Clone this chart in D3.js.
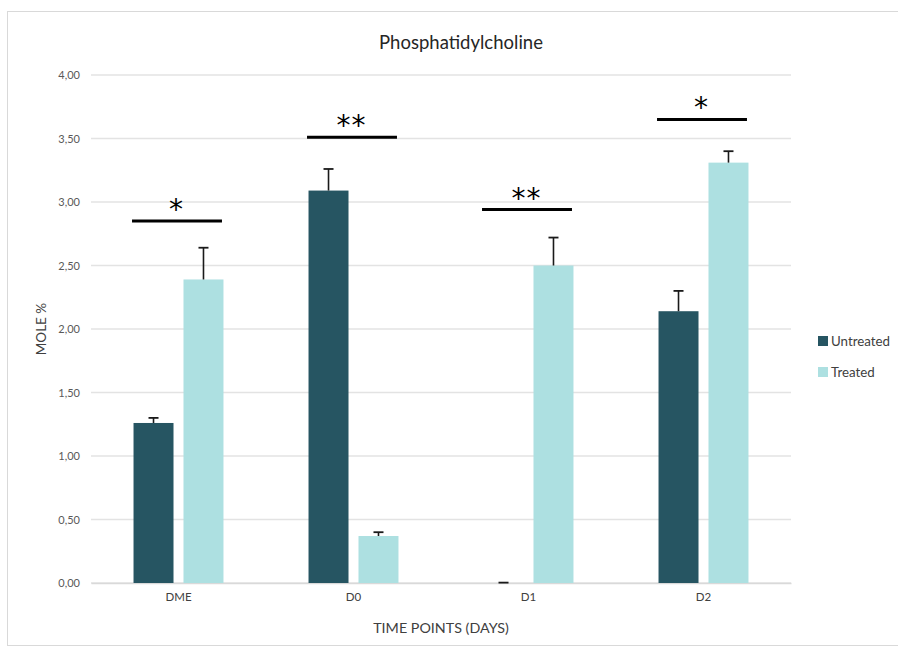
<!DOCTYPE html>
<html><head><meta charset="utf-8">
<script src="https://cdn.jsdelivr.net/npm/d3@7"></script>
<style>body{margin:0;background:#fff}svg{display:block}text{font-family:Lato,"Open Sans",sans-serif}</style>
</head><body><svg id="c" width="898" height="652"></svg>
<script>
const categories = ["DME", "D0", "D1", "D2"];
const seriesNames = ["Untreated", "Treated"];
const untreated = [1.26, 3.09, 0.00, 2.14];
const untreatedErr = [0.04, 0.17, 0.003, 0.16];
const treated = [2.39, 0.37, 2.50, 3.31];
const treatedErr = [0.25, 0.03, 0.22, 0.09];
const sigLevels = [2.85, 3.51, 2.94, 3.65];
const sigLabels = ["*", "**", "**", "*"];
const yTicks = [0, 0.5, 1, 1.5, 2, 2.5, 3, 3.5, 4];
const colors = ["#265562", "#ade0e1"];

const svg = d3.select("#c");
const L = 91, R = 791, T = 75, B = 583;

svg.append("rect").attr("x", 7.5).attr("y", 11.5).attr("width", 905).attr("height", 634)
  .attr("fill", "#fff").attr("stroke", "#d9d9d9");

const x0 = d3.scaleBand().domain(categories).range([L, R]).paddingInner(0.486).paddingOuter(0.243);
const x1 = d3.scaleBand().domain(seriesNames).range([0, x0.bandwidth()]).paddingInner(0.2);
const y = d3.scaleLinear().domain([0, 4]).range([B, T]);

// gridlines
svg.append("g").selectAll("line").data(yTicks).join("line")
  .attr("x1", L).attr("x2", R).attr("y1", d => y(d)).attr("y2", d => y(d))
  .attr("stroke", "#e3e3e3").attr("stroke-width", 1.3);

// y axis labels
const yAxis = d3.axisLeft(y).tickValues(yTicks).tickSize(0).tickPadding(11)
  .tickFormat(d => d3.format(".2f")(d).replace(".", ","));
const ya = svg.append("g").attr("transform", `translate(${L},0)`).call(yAxis);
ya.select(".domain").remove();
ya.selectAll("text").attr("font-size", 11).attr("fill", "#595959").style("font-family", "Lato, sans-serif");

// x axis
const xAxis = d3.axisBottom(x0).tickSize(0).tickPadding(10);
const xa = svg.append("g").attr("transform", `translate(0,${B})`).call(xAxis);
xa.select(".domain").attr("stroke", "#d9d9d9").attr("stroke-width", 1.3);
xa.selectAll("text").attr("font-size", 11.5).attr("fill", "#404040").style("font-family", "Lato, sans-serif");

const data = categories.map((c, i) => ({
  c, vals: [
    {s: "Untreated", v: untreated[i], e: untreatedErr[i], k: 0},
    {s: "Treated", v: treated[i], e: treatedErr[i], k: 1}
  ]
}));

const g = svg.append("g").selectAll("g").data(data).join("g")
  .attr("transform", d => `translate(${x0(d.c)},0)`);

g.selectAll("rect").data(d => d.vals).join("rect")
  .attr("x", d => x1(d.s)).attr("width", x1.bandwidth())
  .attr("y", d => y(d.v)).attr("height", d => y(0) - y(d.v))
  .attr("fill", d => colors[d.k]);

// error bars
const eb = g.selectAll("g.eb").data(d => d.vals).join("g").attr("class", "eb");
eb.append("line")
  .attr("x1", d => x1(d.s) + x1.bandwidth() / 2).attr("x2", d => x1(d.s) + x1.bandwidth() / 2)
  .attr("y1", d => y(d.v)).attr("y2", d => y(d.v + d.e))
  .attr("stroke", "#1a1a1a").attr("stroke-width", 1.6);
eb.append("line")
  .attr("x1", d => x1(d.s) + x1.bandwidth() / 2 - 5).attr("x2", d => x1(d.s) + x1.bandwidth() / 2 + 5)
  .attr("y1", d => y(d.v + d.e)).attr("y2", d => y(d.v + d.e))
  .attr("stroke", "#1a1a1a").attr("stroke-width", 1.8);

// significance
const sig = svg.append("g").selectAll("g").data(categories).join("g");
sig.append("line")
  .attr("x1", d => x0(d) - 1.5).attr("x2", d => x0(d) + x0.bandwidth() - 1.5)
  .attr("y1", (d, i) => y(sigLevels[i])).attr("y2", (d, i) => y(sigLevels[i]))
  .attr("stroke", "#000").attr("stroke-width", 3);
sig.append("text")
  .attr("x", d => x0(d) + x0.bandwidth() / 2 - 2)
  .attr("y", (d, i) => y(sigLevels[i]) - 2)
  .attr("text-anchor", "middle").attr("font-size", 28)
  .style("font-family", "DejaVu Sans, sans-serif").style("letter-spacing", "1px")
  .text((d, i) => sigLabels[i]);

// titles
svg.append("text").attr("x", 461).attr("y", 49).attr("text-anchor", "middle")
  .attr("font-size", 18.5).attr("fill", "#262626").text("Phosphatidylcholine");
svg.append("text").attr("x", (L + R) / 2).attr("y", 633).attr("text-anchor", "middle")
  .attr("font-size", 14.3).attr("fill", "#404040").text("TIME POINTS (DAYS)");
svg.append("text").attr("transform", `translate(46,${(T + B) / 2}) rotate(-90)`)
  .attr("text-anchor", "middle").attr("font-size", 13.5).attr("fill", "#404040").text("MOLE %");

// legend
const lg = svg.append("g").selectAll("g").data(seriesNames).join("g")
  .attr("transform", (d, i) => `translate(818,${336 + i * 31})`);
lg.append("rect").attr("width", 10).attr("height", 10).attr("fill", (d, i) => colors[i]);
lg.append("text").attr("x", 13).attr("y", 5).attr("dy", "0.35em").attr("font-size", 13.3)
  .attr("fill", "#404040").text(d => d);
</script></body></html>
